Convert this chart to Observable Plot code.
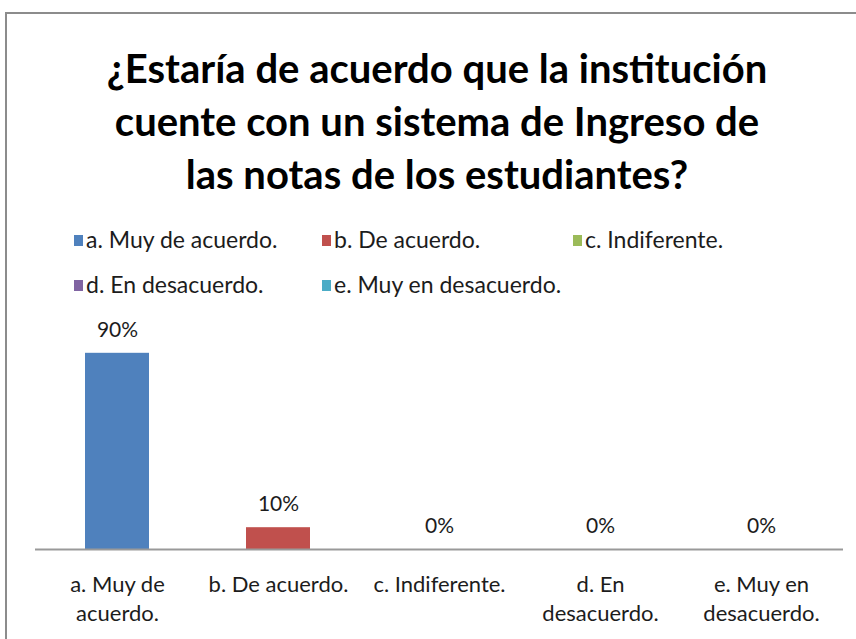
<!DOCTYPE html>
<html>
<head>
<meta charset="utf-8">
<script src="https://cdn.jsdelivr.net/npm/d3@7"></script>
<script src="https://cdn.jsdelivr.net/npm/@observablehq/plot@0.6"></script>
<style>
  body { margin: 0; background: #fff; }
  #wrap { position: relative; width: 856px; height: 639px; overflow: hidden; font-family: Lato, sans-serif; color: #1c1c1c; }
  #frame { position: absolute; left: 5px; top: 12px; width: 900px; height: 700px; border-left: 2px solid #8c8c8c; border-top: 2px solid #8c8c8c; box-sizing: border-box; }
  #title { position: absolute; left: 0; top: 42px; width: 874px; text-align: center; font-weight: bold; font-size: 40px; line-height: 53px; color: #000; }
  .leg { position: absolute; display: flex; align-items: center; font-size: 23px; line-height: 26px; white-space: nowrap; }
  .leg span.sw { display: inline-block; width: 9px; height: 11px; margin-right: 3px; margin-top: 3px; }
  #chart { position: absolute; left: 0; top: 0; }
</style>
</head>
<body>
<div id="wrap">
  <div id="frame"></div>
  <div id="title"></div>
  <div id="legend"></div>
  <div id="chart"></div>
</div>
<script>
const titleLines = ["¿Estaría de acuerdo que la institución", "cuente con un sistema de Ingreso de", "las notas de los estudiantes?"];
const categories = ["a. Muy de acuerdo.", "b. De acuerdo.", "c. Indiferente.", "d. En desacuerdo.", "e. Muy en desacuerdo."];
const axisLabels = ["a. Muy de\nacuerdo.", "b. De acuerdo.", "c. Indiferente.", "d. En\ndesacuerdo.", "e. Muy en\ndesacuerdo."];
const values = [0.90, 0.10, 0, 0, 0];
const valueLabels = ["90%", "10%", "0%", "0%", "0%"];
const colors = ["#4F81BD", "#C0504D", "#9BBB59", "#8064A2", "#4BACC6"];

const titleEl = document.getElementById("title");
titleEl.innerHTML = titleLines.map(t => `<div><span>${t}</span></div>`).join("");

// legend layout: 3 columns, 2 rows
const legCols = [74, 322, 573];
const legRows = [226, 271];
const legend = document.getElementById("legend");
categories.forEach((c, i) => {
  const d = document.createElement("div");
  d.className = "leg";
  d.style.left = legCols[i % 3] + "px";
  d.style.top = legRows[Math.floor(i / 3)] + "px";
  d.innerHTML = `<span class="sw" style="background:${colors[i]}"></span>${c}`;
  legend.appendChild(d);
});

const data = categories.map((c, i) => ({cat: c, value: values[i], label: valueLabels[i]}));

const chart = Plot.plot({
  width: 856,
  height: 639,
  marginLeft: 35,
  marginRight: 13,
  marginTop: 331,
  marginBottom: 90,
  style: {fontFamily: 'Lato, sans-serif', fontSize: "22px", color: "#1c1c1c", background: "transparent"},
  x: {domain: categories, paddingInner: 0.6, paddingOuter: 0.3, label: null},
  y: {domain: [0, 1], axis: null},
  color: {domain: categories, range: colors},
  marks: [
    Plot.barY(data, {x: "cat", y: "value", fill: "cat"}),
    Plot.ruleY([0], {stroke: "#999", strokeWidth: 2}),
    Plot.text(data, {x: "cat", y: "value", text: "label", dy: -23, fontSize: 21, fill: "#1c1c1c"}),
    Plot.axisX({tickSize: 0, tickPadding: 21, fontSize: 22, lineHeight: 1.35, tickFormat: d => axisLabels[categories.indexOf(d)], label: null})
  ]
});
document.getElementById("chart").appendChild(chart);
</script>
</body>
</html>
